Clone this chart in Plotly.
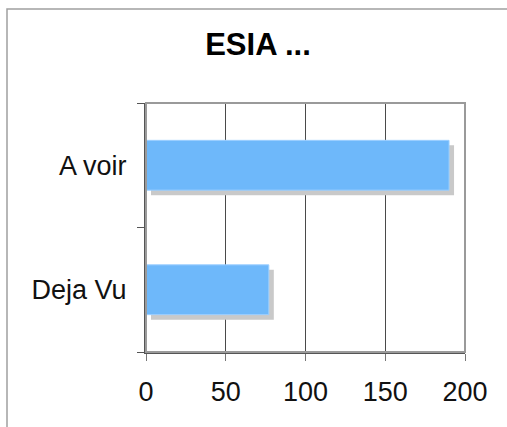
import plotly.graph_objects as go

# Chart data
categories = ["Deja Vu", "A voir"]
counts = [77, 190]
x_ticks = [0, 50, 100, 150, 200]
title_text = "ESIA ..."

# Layout geometry (pixels)
W, H = 507, 427
M_L, M_R, M_T, M_B = 146, 42, 103, 75
plot_w = W - M_L - M_R
plot_h = H - M_T - M_B
x_max = 200
shadow_px = 5
dx = shadow_px * x_max / plot_w
dy = shadow_px * len(categories) / plot_h
bar_w = 0.4

font_family = "Liberation Sans, Arial, sans-serif"

fig = go.Figure()

# drop shadow behind each bar
fig.add_trace(go.Bar(
    y=categories, x=counts, base=[dx] * len(counts), orientation="h",
    width=bar_w, offset=-bar_w / 2 - dy,
    marker=dict(color="#c9c9c9", line=dict(width=0)),
    hoverinfo="skip", showlegend=False,
))
# the bars
fig.add_trace(go.Bar(
    y=categories, x=counts, orientation="h",
    width=bar_w, offset=-bar_w / 2,
    marker=dict(color="#6eb8fa", line=dict(color="#9ccfff", width=1)),
    showlegend=False,
))

# outer chart frame, in paper coordinates
fx0 = (7 - M_L) / plot_w
fy1 = 1 + (M_T - 9) / plot_h
fig.add_shape(type="rect", xref="paper", yref="paper",
              x0=fx0, x1=2, y0=-1, y1=fy1,
              line=dict(color="#a0a0a0", width=1.5), layer="below")
# plot area frame (top/right lighter)
fig.add_shape(type="rect", xref="paper", yref="paper",
              x0=0, x1=1, y0=0, y1=1,
              line=dict(color="#9a9a9a", width=2), layer="above")

fig.update_layout(
    width=W, height=H,
    margin=dict(l=M_L, r=M_R, t=M_T, b=M_B, pad=0),
    paper_bgcolor="white", plot_bgcolor="white",
    barmode="overlay",
    font=dict(family=font_family, size=27, color="#111111"),
    title=dict(text="<b>" + title_text + "</b>", x=258 / W, xref="container",
               xanchor="center", y=1 - 44 / H, yref="container", yanchor="middle",
               font=dict(family=font_family, size=31, color="#000000")),
    xaxis=dict(range=[0, x_max], tickvals=x_ticks, ticktext=[str(v) for v in x_ticks],
               showgrid=True, gridcolor="#4a4a4a", gridwidth=1,
               zeroline=False, showline=True, linecolor="#555555", linewidth=2,
               ticks="outside", ticklen=7, tickcolor="#777777", tickwidth=1,
               ticklabelstandoff=8, fixedrange=True),
    yaxis=dict(type="category", categoryorder="array", categoryarray=categories,
               range=[-0.5, len(categories) - 0.5],
               showgrid=False, zeroline=False, showline=True,
               linecolor="#555555", linewidth=2,
               ticks="outside", tickson="boundaries", ticklen=7,
               tickcolor="#555555", tickwidth=1,
               ticklabelstandoff=12, fixedrange=True),
)

fig.write_html("out.html")
